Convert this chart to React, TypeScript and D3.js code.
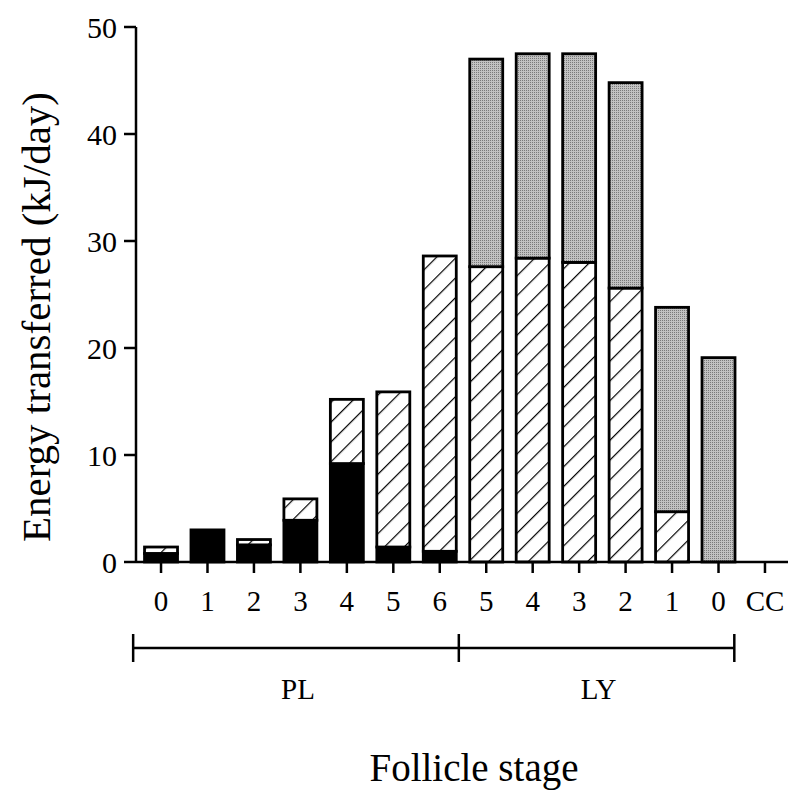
import React from "react";
import * as d3 from "d3";

const stageLabels = ["0", "1", "2", "3", "4", "5", "6", "5", "4", "3", "2", "1", "0", "CC"];
const blackValues = [0.8, 3.0, 1.6, 3.9, 9.2, 1.4, 1.0, 0, 0, 0, 0, 0, 0, 0];
const hatchValues = [0.6, 0, 0.5, 2.0, 6.0, 14.5, 27.6, 27.6, 28.4, 28.0, 25.6, 4.7, 0, 0];
const grayValues = [0, 0, 0, 0, 0, 0, 0, 19.4, 19.1, 19.5, 19.2, 19.1, 19.1, 0];
const yTicks = [0, 10, 20, 30, 40, 50];
const groupLabels = ["PL", "LY"];

const W = 792;
const H = 797;
const FONT = "'Liberation Serif', 'Times New Roman', serif";

export default function App() {
  const x = d3
    .scaleBand<number>()
    .domain(d3.range(stageLabels.length))
    .range([137.8, 788.2])
    .paddingInner(0.29)
    .paddingOuter(0.145);
  const y = d3.scaleLinear().domain([0, 50]).range([562, 27]);
  const step = x.step();
  const cx = (i: number) => (x(i) as number) + x.bandwidth() / 2;

  const segs: { i: number; y0: number; y1: number; fill: string }[] = [];
  stageLabels.forEach((_, i) => {
    let base = 0;
    const parts: [number, string][] = [
      [blackValues[i], "#000"],
      [hatchValues[i], "url(#hatch)"],
      [grayValues[i], "url(#stipple)"],
    ];
    parts.forEach(([v, f]) => {
      if (v > 0) {
        segs.push({ i, y0: base, y1: base + v, fill: f });
        base += v;
      }
    });
  });

  const bracketLeft = cx(0) - 0.6 * step;
  const bracketMid = cx(6) + 0.41 * step;
  const bracketRight = cx(12) + 0.34 * step;
  const bracketY = 648;

  return (
    <svg width={W} height={H} style={{ position: "absolute", left: 0, top: 0, background: "#fff" }}>
      <defs>
        <pattern id="hatch" patternUnits="userSpaceOnUse" width="14" height="14" patternTransform="rotate(45)">
          <rect width="14" height="14" fill="#fff" />
          <line x1="0" y1="0" x2="0" y2="14" stroke="#000" strokeWidth="2.4" />
        </pattern>
        <pattern id="stipple" patternUnits="userSpaceOnUse" width="2" height="2">
          <rect width="2" height="2" fill="#c2c2c2" />
          <rect width="1" height="1" fill="#7a7a7a" />
        </pattern>
      </defs>

      {/* bars */}
      {segs.map((s, k) => (
        <rect
          key={k}
          x={x(s.i) as number}
          width={x.bandwidth()}
          y={y(s.y1)}
          height={y(s.y0) - y(s.y1)}
          fill={s.fill}
          stroke="#000"
          strokeWidth={2.8}
        />
      ))}

      {/* y axis */}
      <line x1={136} x2={136} y1={y(50)} y2={y(0)} stroke="#000" strokeWidth={2.5} />
      {yTicks.map((t) => (
        <g key={t}>
          <line x1={124} x2={136} y1={y(t)} y2={y(t)} stroke="#000" strokeWidth={2.5} />
          <text x={117} y={y(t)} dy="0.35em" textAnchor="end" fontFamily={FONT} fontSize={30}>
            {t}
          </text>
        </g>
      ))}

      {/* x axis */}
      <line x1={136} x2={788} y1={y(0)} y2={y(0)} stroke="#000" strokeWidth={2.5} />
      {stageLabels.map((l, i) => (
        <g key={i}>
          <line x1={cx(i)} x2={cx(i)} y1={y(0)} y2={y(0) + 11} stroke="#000" strokeWidth={2.5} />
          <text x={cx(i)} y={611} textAnchor="middle" fontFamily={FONT} fontSize={29}>
            {l}
          </text>
        </g>
      ))}

      {/* group bracket */}
      <line x1={bracketLeft} x2={bracketRight} y1={bracketY} y2={bracketY} stroke="#000" strokeWidth={2.5} />
      {[bracketLeft, bracketMid, bracketRight].map((bx, k) => (
        <line key={k} x1={bx} x2={bx} y1={bracketY - 14} y2={bracketY + 14} stroke="#000" strokeWidth={2.5} />
      ))}
      <text x={(bracketLeft + bracketMid) / 2 + 2} y={699} textAnchor="middle" fontFamily={FONT} fontSize={29}>
        {groupLabels[0]}
      </text>
      <text x={(bracketMid + bracketRight) / 2 + 2} y={699} textAnchor="middle" fontFamily={FONT} fontSize={29}>
        {groupLabels[1]}
      </text>

      {/* axis titles */}
      <text x={474} y={781} textAnchor="middle" fontFamily={FONT} fontSize={39}>
        Follicle stage
      </text>
      <text
        transform={`translate(50, 317) rotate(-90)`}
        textAnchor="middle"
        fontFamily={FONT}
        fontSize={41}
      >
        Energy transferred (kJ/day)
      </text>
    </svg>
  );
}
